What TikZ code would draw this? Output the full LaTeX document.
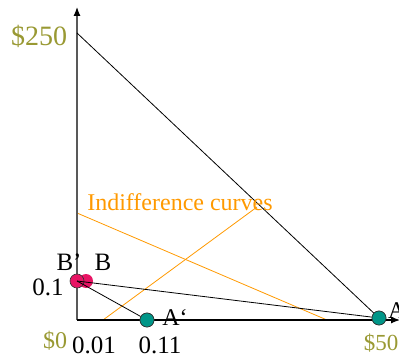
\documentclass[tikz,border=0pt]{standalone}
\usepackage{fontspec}
\setmainfont{Liberation Serif}
\usetikzlibrary{arrows.meta}
\definecolor{olivetext}{RGB}{153,153,51}
\definecolor{indiff}{RGB}{255,153,0}
\definecolor{tealdot}{RGB}{0,150,136}
\definecolor{pinkdot}{RGB}{232,20,100}
\tikzset{
  money/.style={text=olivetext, font=\fontsize{24}{24}\selectfont, inner sep=0pt},
  ticklabel/.style={text=black, font=\fontsize{25}{25}\selectfont, inner sep=0pt},
  tealpt/.style={circle, fill=tealdot, draw=black!80, line width=0.6pt, minimum size=14pt, inner sep=0pt},
  pinkpt/.style={circle, fill=pinkdot, minimum size=14pt, inner sep=0pt},
  axistip/.style={-{Latex[length=9pt, width=7pt, color=black]}},
}
\begin{document}
\begin{tikzpicture}[x=1pt, y=-1pt, line join=round]
  \useasboundingbox (0,0) rectangle (399,358);
  % diem goc va cac diem dau truc
  \coordinate (O) at (77,320);
  \coordinate (Xend) at (400,320);
  \coordinate (Yend) at (77,7);
  \coordinate (Top) at (77,33);

  % 1. Cac duong bang quan (mau cam)
  \coordinate (I1a) at (77,213);
  \coordinate (I1b) at (327,320);
  \coordinate (I2a) at (103,320);
  \coordinate (I2b) at (257,207);
  \draw[indiff, line width=0.8pt] (I1a) -- (I1b);
  \draw[indiff, line width=0.8pt] (I2a) -- (I2b);

  % 2. He truc
  \draw[axistip, gray!70!black, line width=1.2pt] (O) -- (Yend);
  \draw[axistip, black, line width=1.2pt] (O) -- (Xend);

  % 3. Cac diem
  \node[pinkpt] (B) at (86,281) {};
  \node[pinkpt, draw=black!80, line width=0.6pt] (Bp) at (77,281) {};
  \node[tealpt] (A) at (379,318) {};
  \node[tealpt] (Ap) at (147,320) {};

  % 4. Duong ngan sach
  \draw[black, line width=0.8pt] (Top) -- (A);
  \draw[black, line width=0.8pt] (Bp.center) -- (A);
  \draw[black, line width=0.8pt] (Bp.center) -- (Ap);

  % ve lai cac diem de nam tren duong
  \node[tealpt] at (A) {};
  \node[tealpt] at (Ap) {};

  % 5. Nhan
  \node[money, font=\fontsize{28}{28}\selectfont] (m250) at (39,36) {\$250};
  \node[money] (m0) at (55,341) {\$0};
  \node[money, font=\fontsize{23}{23}\selectfont] (m50) at (381,343) {\$50};
  \node[ticklabel] (t001) at (94,345) {0.01};
  \node[ticklabel] (t011) at (160,345) {0.11};
  \node[ticklabel] (t01) at (48,287) {0.1};
  \node[ticklabel] (lBp) at (69,262) {B\textquoteright};
  \node[ticklabel] (lB) at (103,262) {B};
  \node[ticklabel, font=\fontsize{24}{24}\selectfont] (lAp) at (175,318) {A\textquoteleft};
  \node[ticklabel, font=\fontsize{24}{24}\selectfont, anchor=west] (lA) at (388,311) {A};
  \node[text=indiff, font=\fontsize{24}{24}\selectfont, inner sep=0pt] (lI) at (180,202) {Indifference curves};
\end{tikzpicture}
\end{document}
